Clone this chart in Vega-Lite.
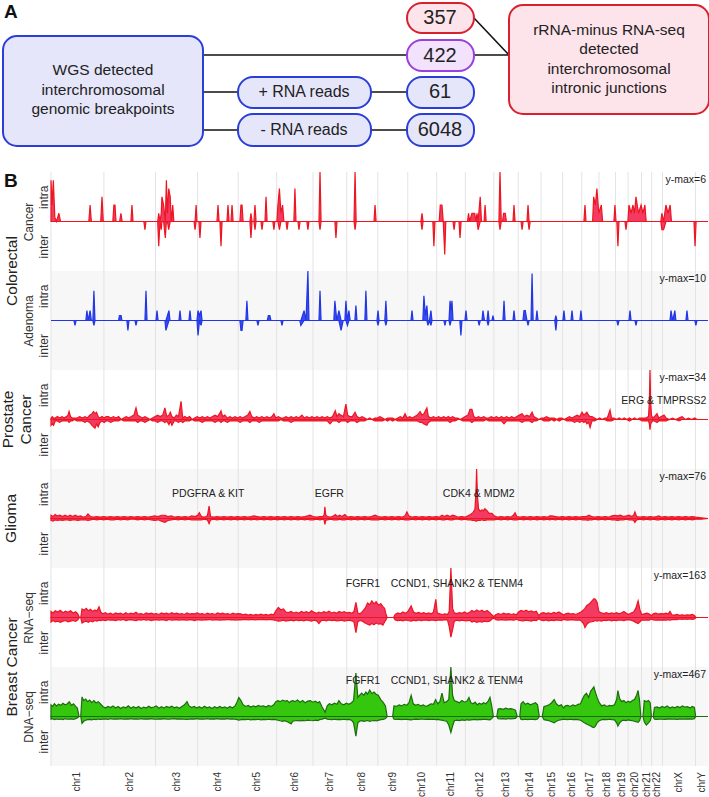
{
"$schema": "https://vega.github.io/schema/vega-lite/v6.json",
"padding": 0,
"autosize": {"type": "pad"},
"config": {"font": "Liberation Sans", "view": {"stroke": null}},
"bounds": "flush",
"spacing": 0,
"datasets": {
"chroms": [
{"chr":"chr1","start":0,"center":124.5},{"chr":"chr2","start":249,"center":370.5},{"chr":"chr3","start":492,"center":591},{"chr":"chr4","start":690,"center":785.5},{"chr":"chr5","start":881,"center":971.5},{"chr":"chr6","start":1062,"center":1147.5},{"chr":"chr7","start":1233,"center":1312.5},{"chr":"chr8","start":1392,"center":1465},{"chr":"chr9","start":1538,"center":1608.5},{"chr":"chr10","start":1679,"center":1747},{"chr":"chr11","start":1815,"center":1882.5},{"chr":"chr12","start":1950,"center":2017},{"chr":"chr13","start":2084,"center":2141.5},{"chr":"chr14","start":2199,"center":2252.5},{"chr":"chr15","start":2306,"center":2357},{"chr":"chr16","start":2408,"center":2453},{"chr":"chr17","start":2498,"center":2538.5},{"chr":"chr18","start":2579,"center":2618},{"chr":"chr19","start":2657,"center":2686.5},{"chr":"chr20","start":2716,"center":2747.5},{"chr":"chr21","start":2779,"center":2803},{"chr":"chr22","start":2827,"center":2852.5},{"chr":"chrX","start":2878,"center":2955.5},{"chr":"chrY","start":3033,"center":3062.5}
],
"crc": [
{"pos":0,"intra":5,"inter":0},{"pos":5,"intra":2,"inter":0},{"pos":11,"intra":5,"inter":0},{"pos":18,"intra":0.5,"inter":0},{"pos":26,"intra":0,"inter":0},{"pos":37,"intra":1,"inter":0},{"pos":45,"intra":0,"inter":0},
{"pos":178,"intra":0,"inter":0},{"pos":184,"intra":2,"inter":0},{"pos":190,"intra":0,"inter":0},
{"pos":234,"intra":0,"inter":0},{"pos":240,"intra":3,"inter":0},{"pos":246,"intra":0,"inter":0},
{"pos":291,"intra":0,"inter":0},{"pos":296,"intra":2,"inter":0},{"pos":301,"intra":2,"inter":0},{"pos":306,"intra":0,"inter":0},
{"pos":323,"intra":0,"inter":0},{"pos":329,"intra":1,"inter":0},{"pos":335,"intra":0,"inter":0},
{"pos":376,"intra":0,"inter":0},{"pos":381,"intra":2,"inter":0},{"pos":386,"intra":0,"inter":0},
{"pos":437,"intra":0,"inter":0},{"pos":442,"intra":0,"inter":-1},{"pos":447,"intra":0,"inter":0},
{"pos":502,"intra":0,"inter":0},{"pos":507,"intra":1,"inter":-3},{"pos":513,"intra":0,"inter":0},{"pos":519,"intra":1,"inter":-1},{"pos":522,"intra":3,"inter":0},{"pos":530,"intra":2,"inter":0},{"pos":538,"intra":0,"inter":-2},{"pos":543,"intra":5,"inter":0},{"pos":548,"intra":1,"inter":0},{"pos":554,"intra":4,"inter":-1},{"pos":561,"intra":3,"inter":0},{"pos":566,"intra":0,"inter":0},{"pos":573,"intra":2,"inter":0},{"pos":578,"intra":0,"inter":0},
{"pos":673,"intra":0,"inter":0},{"pos":678,"intra":0,"inter":-1},{"pos":683,"intra":2,"inter":0},{"pos":687,"intra":0,"inter":0},{"pos":696,"intra":0,"inter":0},{"pos":701,"intra":0,"inter":-2},{"pos":706,"intra":0,"inter":0},
{"pos":781,"intra":0,"inter":0},{"pos":786,"intra":2,"inter":0},{"pos":791,"intra":0,"inter":0},{"pos":795,"intra":0,"inter":0},{"pos":800,"intra":0,"inter":-3},{"pos":805,"intra":0,"inter":0},
{"pos":828,"intra":0,"inter":0},{"pos":833,"intra":2,"inter":0},{"pos":838,"intra":0,"inter":0},{"pos":847,"intra":0,"inter":0},{"pos":852,"intra":2,"inter":0},{"pos":857,"intra":0,"inter":0},
{"pos":889,"intra":0,"inter":0},{"pos":894,"intra":2,"inter":0},{"pos":899,"intra":2,"inter":0},{"pos":904,"intra":0,"inter":0},
{"pos":936,"intra":0,"inter":0},{"pos":941,"intra":1,"inter":-2},{"pos":946,"intra":0,"inter":0},{"pos":955,"intra":0,"inter":0},{"pos":960,"intra":2,"inter":-1},{"pos":965,"intra":0,"inter":0},
{"pos":988,"intra":0,"inter":0},{"pos":993,"intra":0,"inter":-1},{"pos":998,"intra":0,"inter":0},{"pos":1007,"intra":0,"inter":0},{"pos":1012,"intra":3,"inter":0},{"pos":1017,"intra":0,"inter":0},
{"pos":1044,"intra":0,"inter":0},{"pos":1049,"intra":0,"inter":-1},{"pos":1054,"intra":0,"inter":0},
{"pos":1063,"intra":0,"inter":0},{"pos":1068,"intra":2,"inter":0},{"pos":1075,"intra":4,"inter":-1},{"pos":1082,"intra":1,"inter":0},{"pos":1090,"intra":2,"inter":0},{"pos":1096,"intra":0,"inter":0},{"pos":1106,"intra":0,"inter":0},{"pos":1111,"intra":0,"inter":-1},{"pos":1116,"intra":0,"inter":0},
{"pos":1143,"intra":0,"inter":0},{"pos":1148,"intra":4,"inter":0},{"pos":1153,"intra":0,"inter":0},{"pos":1162,"intra":0,"inter":0},{"pos":1167,"intra":0,"inter":-1},{"pos":1172,"intra":0,"inter":0},
{"pos":1204,"intra":0,"inter":0},{"pos":1209,"intra":0,"inter":-1},{"pos":1214,"intra":0,"inter":0},
{"pos":1261,"intra":0,"inter":0},{"pos":1266,"intra":6,"inter":-1},{"pos":1271,"intra":0,"inter":0},
{"pos":1336,"intra":0,"inter":0},{"pos":1341,"intra":0,"inter":-2},{"pos":1346,"intra":0,"inter":0},
{"pos":1426,"intra":0,"inter":0},{"pos":1431,"intra":6,"inter":-1},{"pos":1436,"intra":0,"inter":0},
{"pos":1520,"intra":0,"inter":0},{"pos":1525,"intra":2,"inter":0},{"pos":1530,"intra":0,"inter":0},
{"pos":1741,"intra":0,"inter":0},{"pos":1746,"intra":1,"inter":-1},{"pos":1751,"intra":0,"inter":0},
{"pos":1797,"intra":0,"inter":0},{"pos":1802,"intra":0,"inter":-3},{"pos":1807,"intra":0,"inter":0},
{"pos":1827,"intra":0,"inter":0},{"pos":1832,"intra":2,"inter":0},{"pos":1840,"intra":2,"inter":0},{"pos":1846,"intra":0,"inter":0},{"pos":1853,"intra":0,"inter":-4},{"pos":1858,"intra":0,"inter":0},
{"pos":1892,"intra":0,"inter":0},{"pos":1897,"intra":0,"inter":-1},{"pos":1902,"intra":0,"inter":0},{"pos":1920,"intra":0,"inter":0},{"pos":1925,"intra":0,"inter":-2},{"pos":1930,"intra":0,"inter":0},
{"pos":1960,"intra":0,"inter":0},{"pos":1965,"intra":1,"inter":0},{"pos":1970,"intra":0,"inter":0},{"pos":1981,"intra":1,"inter":0},{"pos":1986,"intra":1,"inter":0},{"pos":1994,"intra":1,"inter":0},{"pos":2000,"intra":0,"inter":0},{"pos":2005,"intra":1,"inter":0},{"pos":2010,"intra":0,"inter":-1},{"pos":2020,"intra":3,"inter":0},{"pos":2026,"intra":0,"inter":0},{"pos":2038,"intra":0,"inter":0},{"pos":2043,"intra":2,"inter":0},{"pos":2048,"intra":0,"inter":0},
{"pos":2108,"intra":0,"inter":0},{"pos":2113,"intra":6,"inter":-1},{"pos":2119,"intra":0,"inter":0},{"pos":2125,"intra":0,"inter":0},{"pos":2130,"intra":1,"inter":0},{"pos":2138,"intra":1,"inter":0},{"pos":2143,"intra":0,"inter":0},
{"pos":2174,"intra":0,"inter":0},{"pos":2179,"intra":2,"inter":0},{"pos":2184,"intra":0,"inter":0},
{"pos":2212,"intra":0,"inter":0},{"pos":2217,"intra":0,"inter":-1},{"pos":2222,"intra":0,"inter":0},
{"pos":2240,"intra":0,"inter":0},{"pos":2245,"intra":2,"inter":0},{"pos":2250,"intra":0,"inter":-1},{"pos":2255,"intra":0,"inter":0},
{"pos":2508,"intra":0,"inter":0},{"pos":2513,"intra":2,"inter":0},{"pos":2518,"intra":0,"inter":0},
{"pos":2549,"intra":0,"inter":0},{"pos":2554,"intra":3,"inter":0},{"pos":2562,"intra":2,"inter":0},{"pos":2569,"intra":4,"inter":0},{"pos":2578,"intra":1,"inter":0},{"pos":2590,"intra":2,"inter":0},{"pos":2596,"intra":0,"inter":0},
{"pos":2649,"intra":0,"inter":0},{"pos":2654,"intra":2,"inter":0},{"pos":2659,"intra":0,"inter":0},{"pos":2663,"intra":0,"inter":0},{"pos":2668,"intra":0,"inter":-3},{"pos":2673,"intra":0,"inter":0},
{"pos":2701,"intra":0,"inter":0},{"pos":2706,"intra":0,"inter":-1},{"pos":2711,"intra":0,"inter":0},
{"pos":2715,"intra":0,"inter":0},{"pos":2720,"intra":2,"inter":0},{"pos":2730,"intra":1,"inter":0},{"pos":2739,"intra":2,"inter":0},{"pos":2746,"intra":1,"inter":0},{"pos":2753,"intra":3,"inter":0},{"pos":2765,"intra":1,"inter":0},{"pos":2777,"intra":2,"inter":0},{"pos":2786,"intra":1,"inter":0},{"pos":2795,"intra":2,"inter":0},{"pos":2801,"intra":0,"inter":0},
{"pos":2870,"intra":0,"inter":0},{"pos":2875,"intra":1,"inter":-1},{"pos":2883,"intra":0,"inter":-1},{"pos":2894,"intra":2,"inter":0},{"pos":2904,"intra":1,"inter":0},{"pos":2914,"intra":2,"inter":0},{"pos":2920,"intra":0,"inter":0},
{"pos":3026,"intra":0,"inter":0},{"pos":3031,"intra":0,"inter":-3},{"pos":3036,"intra":0,"inter":0},{"pos":3092,"intra":0,"inter":0}
],
"aden": [
{"pos":0,"intra":0,"inter":0},{"pos":108,"intra":0,"inter":0},{"pos":113,"intra":0,"inter":-1},{"pos":118,"intra":0,"inter":0},{"pos":164,"intra":0,"inter":0},{"pos":169,"intra":2,"inter":0},{"pos":175,"intra":0,"inter":0},{"pos":184,"intra":2,"inter":0},{"pos":190,"intra":0,"inter":0},{"pos":197,"intra":0,"inter":0},{"pos":202,"intra":6,"inter":-1},{"pos":207,"intra":0,"inter":0},
{"pos":318,"intra":0,"inter":0},{"pos":322,"intra":1,"inter":0},{"pos":330,"intra":1,"inter":0},{"pos":334,"intra":0,"inter":0},{"pos":357,"intra":0,"inter":0},{"pos":362,"intra":0,"inter":-2},{"pos":367,"intra":0,"inter":0},{"pos":395,"intra":0,"inter":0},{"pos":400,"intra":0,"inter":-1},{"pos":405,"intra":0,"inter":0},
{"pos":442,"intra":0,"inter":0},{"pos":447,"intra":6,"inter":0},{"pos":452,"intra":0,"inter":0},{"pos":494,"intra":0,"inter":0},{"pos":499,"intra":2,"inter":0},{"pos":504,"intra":0,"inter":0},{"pos":536,"intra":0,"inter":0},{"pos":541,"intra":0,"inter":-2},{"pos":555,"intra":2,"inter":0},{"pos":560,"intra":0,"inter":0},
{"pos":602,"intra":0,"inter":0},{"pos":607,"intra":2,"inter":0},{"pos":612,"intra":0,"inter":0},{"pos":649,"intra":0,"inter":0},{"pos":654,"intra":2,"inter":0},{"pos":659,"intra":0,"inter":0},{"pos":687,"intra":0,"inter":0},{"pos":692,"intra":2,"inter":-3},{"pos":699,"intra":1,"inter":0},{"pos":706,"intra":2,"inter":-1},{"pos":711,"intra":0,"inter":0},
{"pos":889,"intra":0,"inter":0},{"pos":894,"intra":0,"inter":-2},{"pos":899,"intra":0,"inter":-2},{"pos":904,"intra":0,"inter":0},{"pos":917,"intra":0,"inter":0},{"pos":922,"intra":4,"inter":0},{"pos":927,"intra":0,"inter":0},{"pos":969,"intra":0,"inter":0},{"pos":974,"intra":0,"inter":-1},{"pos":979,"intra":0,"inter":0},
{"pos":1018,"intra":0,"inter":0},{"pos":1023,"intra":1,"inter":0},{"pos":1030,"intra":1,"inter":0},{"pos":1035,"intra":0,"inter":0},{"pos":1082,"intra":0,"inter":0},{"pos":1087,"intra":0,"inter":-1},{"pos":1092,"intra":0,"inter":0},{"pos":1171,"intra":0,"inter":0},{"pos":1176,"intra":0,"inter":-1},{"pos":1191,"intra":2,"inter":0},{"pos":1200,"intra":0,"inter":0},{"pos":1209,"intra":10,"inter":0},{"pos":1214,"intra":0,"inter":0},
{"pos":1261,"intra":0,"inter":0},{"pos":1266,"intra":6,"inter":0},{"pos":1271,"intra":0,"inter":0},{"pos":1331,"intra":0,"inter":0},{"pos":1336,"intra":4,"inter":0},{"pos":1345,"intra":0,"inter":0},{"pos":1355,"intra":2,"inter":0},{"pos":1365,"intra":0,"inter":-2},{"pos":1375,"intra":0,"inter":0},{"pos":1383,"intra":0,"inter":0},{"pos":1388,"intra":4,"inter":0},{"pos":1395,"intra":0,"inter":-1},{"pos":1402,"intra":2,"inter":0},{"pos":1408,"intra":0,"inter":0},
{"pos":1430,"intra":0,"inter":0},{"pos":1435,"intra":3,"inter":0},{"pos":1440,"intra":0,"inter":0},{"pos":1477,"intra":0,"inter":0},{"pos":1482,"intra":6,"inter":0},{"pos":1487,"intra":0,"inter":0},{"pos":1534,"intra":0,"inter":0},{"pos":1539,"intra":2,"inter":-1},{"pos":1544,"intra":0,"inter":0},{"pos":1571,"intra":0,"inter":0},{"pos":1576,"intra":4,"inter":-1},{"pos":1581,"intra":0,"inter":0},
{"pos":1694,"intra":0,"inter":0},{"pos":1699,"intra":2,"inter":0},{"pos":1704,"intra":0,"inter":0},{"pos":1750,"intra":0,"inter":0},{"pos":1755,"intra":5,"inter":0},{"pos":1762,"intra":1,"inter":0},{"pos":1769,"intra":3,"inter":0},{"pos":1774,"intra":0,"inter":-1},{"pos":1781,"intra":0,"inter":0},{"pos":1788,"intra":2,"inter":-1},{"pos":1793,"intra":0,"inter":0},
{"pos":1849,"intra":0,"inter":0},{"pos":1854,"intra":0,"inter":-1},{"pos":1859,"intra":0,"inter":0},{"pos":1873,"intra":0,"inter":0},{"pos":1878,"intra":4,"inter":-1},{"pos":1883,"intra":2,"inter":0},{"pos":1887,"intra":4,"inter":0},{"pos":1892,"intra":0,"inter":0},{"pos":1924,"intra":0,"inter":0},{"pos":1929,"intra":0,"inter":-3},{"pos":1934,"intra":0,"inter":0},{"pos":1948,"intra":0,"inter":0},{"pos":1953,"intra":2,"inter":0},{"pos":1958,"intra":0,"inter":0},
{"pos":2010,"intra":0,"inter":0},{"pos":2015,"intra":0,"inter":-1},{"pos":2020,"intra":0,"inter":0},{"pos":2028,"intra":0,"inter":0},{"pos":2033,"intra":2,"inter":0},{"pos":2040,"intra":0,"inter":0},{"pos":2052,"intra":0,"inter":0},{"pos":2057,"intra":2,"inter":-1},{"pos":2062,"intra":0,"inter":0},{"pos":2075,"intra":0,"inter":0},{"pos":2080,"intra":1,"inter":0},{"pos":2085,"intra":0,"inter":0},
{"pos":2127,"intra":0,"inter":0},{"pos":2132,"intra":4,"inter":0},{"pos":2137,"intra":0,"inter":0},{"pos":2174,"intra":0,"inter":0},{"pos":2179,"intra":2,"inter":0},{"pos":2184,"intra":0,"inter":0},{"pos":2221,"intra":0,"inter":0},{"pos":2226,"intra":2,"inter":0},{"pos":2232,"intra":2,"inter":0},{"pos":2240,"intra":0,"inter":0},{"pos":2245,"intra":0,"inter":-1},{"pos":2250,"intra":0,"inter":0},{"pos":2259,"intra":0,"inter":0},{"pos":2264,"intra":9.5,"inter":0},{"pos":2269,"intra":0,"inter":0},{"pos":2282,"intra":0,"inter":0},{"pos":2287,"intra":2,"inter":0},{"pos":2292,"intra":0,"inter":0},
{"pos":2371,"intra":0,"inter":0},{"pos":2376,"intra":1,"inter":-2},{"pos":2381,"intra":0,"inter":0},{"pos":2409,"intra":0,"inter":0},{"pos":2414,"intra":2,"inter":0},{"pos":2419,"intra":0,"inter":0},{"pos":2447,"intra":0,"inter":0},{"pos":2452,"intra":2,"inter":0},{"pos":2457,"intra":0,"inter":0},{"pos":2489,"intra":0,"inter":0},{"pos":2494,"intra":2,"inter":0},{"pos":2499,"intra":0,"inter":0},
{"pos":2663,"intra":0,"inter":0},{"pos":2668,"intra":0,"inter":-1},{"pos":2673,"intra":0,"inter":0},{"pos":2720,"intra":0,"inter":0},{"pos":2725,"intra":2,"inter":0},{"pos":2730,"intra":0,"inter":0},{"pos":2748,"intra":0,"inter":0},{"pos":2753,"intra":0,"inter":-1},{"pos":2758,"intra":0,"inter":0},
{"pos":2913,"intra":0,"inter":0},{"pos":2918,"intra":2,"inter":0},{"pos":2926,"intra":0,"inter":0},{"pos":2936,"intra":2,"inter":0},{"pos":2941,"intra":0,"inter":0},{"pos":2988,"intra":0,"inter":0},{"pos":2993,"intra":2,"inter":0},{"pos":2998,"intra":0,"inter":0},{"pos":3030,"intra":0,"inter":0},{"pos":3035,"intra":0,"inter":-1},{"pos":3040,"intra":0,"inter":0},{"pos":3092,"intra":0,"inter":0}
],
"pros": [
{"pos":0,"intra":1,"inter":-4},{"pos":6,"intra":2,"inter":-3},{"pos":12,"intra":1,"inter":-4},{"pos":20,"intra":1,"inter":-1},{"pos":30,"intra":2,"inter":-1},{"pos":40,"intra":1,"inter":-2},{"pos":52,"intra":2,"inter":-1},{"pos":62,"intra":1,"inter":-1},{"pos":72,"intra":2,"inter":-1},{"pos":80,"intra":3,"inter":-1},{"pos":85,"intra":5.5,"inter":-2},{"pos":92,"intra":2,"inter":-1},{"pos":100,"intra":1,"inter":-1},{"pos":110,"intra":1,"inter":0},{"pos":122,"intra":1,"inter":-1},{"pos":135,"intra":2,"inter":-1},{"pos":148,"intra":1,"inter":-1},{"pos":160,"intra":2,"inter":-2},{"pos":170,"intra":1,"inter":-1},{"pos":182,"intra":3,"inter":-2},{"pos":193,"intra":4,"inter":-4},{"pos":200,"intra":5.5,"inter":-5},{"pos":207,"intra":4,"inter":-6},{"pos":214,"intra":5,"inter":-3},{"pos":222,"intra":2,"inter":-5},{"pos":230,"intra":1,"inter":-2},{"pos":240,"intra":2,"inter":-1},{"pos":250,"intra":1,"inter":-2},{"pos":260,"intra":2,"inter":-1},{"pos":270,"intra":2,"inter":-1},{"pos":282,"intra":1,"inter":-2},{"pos":294,"intra":2,"inter":-1},{"pos":306,"intra":1,"inter":-1},{"pos":318,"intra":2,"inter":-1},{"pos":330,"intra":0,"inter":0},{"pos":342,"intra":1,"inter":-1},{"pos":354,"intra":2,"inter":-1},{"pos":366,"intra":1,"inter":-1},{"pos":378,"intra":2,"inter":-1},{"pos":390,"intra":3,"inter":-1},{"pos":400,"intra":8,"inter":-1},{"pos":408,"intra":3,"inter":-2},{"pos":418,"intra":2,"inter":-1},{"pos":430,"intra":1,"inter":-1},{"pos":442,"intra":2,"inter":-2},{"pos":454,"intra":1,"inter":-1},{"pos":466,"intra":0,"inter":0},{"pos":478,"intra":1,"inter":-1},{"pos":490,"intra":2,"inter":-1},{"pos":502,"intra":3,"inter":-2},{"pos":514,"intra":2,"inter":-1},{"pos":526,"intra":3,"inter":-1},{"pos":536,"intra":8,"inter":-2},{"pos":545,"intra":2,"inter":-1},{"pos":555,"intra":3,"inter":-3.5},{"pos":562,"intra":5,"inter":-1},{"pos":569,"intra":2,"inter":-4},{"pos":580,"intra":1,"inter":-1},{"pos":590,"intra":3,"inter":-1},{"pos":600,"intra":2,"inter":-2},{"pos":612,"intra":12.5,"inter":-1},{"pos":620,"intra":1,"inter":-2},{"pos":630,"intra":2,"inter":-1},{"pos":640,"intra":1,"inter":-1},{"pos":652,"intra":2,"inter":-1},{"pos":664,"intra":0,"inter":0},{"pos":676,"intra":1,"inter":-1},{"pos":688,"intra":2,"inter":-1},{"pos":700,"intra":1,"inter":-1},{"pos":712,"intra":2,"inter":-2},{"pos":724,"intra":1,"inter":-1},{"pos":736,"intra":2,"inter":-1},{"pos":748,"intra":1,"inter":-1},{"pos":760,"intra":2,"inter":-1},{"pos":772,"intra":3,"inter":-2},{"pos":784,"intra":2,"inter":-1},{"pos":793,"intra":4,"inter":-1},{"pos":800,"intra":6,"inter":-2},{"pos":808,"intra":2,"inter":-1},{"pos":818,"intra":3,"inter":-1},{"pos":830,"intra":1,"inter":-2},{"pos":842,"intra":2,"inter":-1},{"pos":854,"intra":1,"inter":-1},{"pos":866,"intra":2,"inter":-1},{"pos":878,"intra":1,"inter":-1},{"pos":890,"intra":2,"inter":-2},{"pos":902,"intra":1,"inter":-1},{"pos":914,"intra":2,"inter":-1},{"pos":926,"intra":3,"inter":-1},{"pos":936,"intra":5.5,"inter":-2},{"pos":945,"intra":2,"inter":-1},{"pos":956,"intra":1,"inter":-1},{"pos":968,"intra":2,"inter":-1},{"pos":980,"intra":1,"inter":-2},{"pos":992,"intra":2,"inter":-1},{"pos":1004,"intra":1,"inter":-1},{"pos":1016,"intra":2,"inter":-1},{"pos":1028,"intra":1,"inter":-1},{"pos":1040,"intra":2,"inter":-1},{"pos":1049,"intra":4,"inter":-1},{"pos":1058,"intra":1,"inter":-1},{"pos":1070,"intra":2,"inter":-1},{"pos":1082,"intra":1,"inter":0},{"pos":1094,"intra":1,"inter":-1},{"pos":1106,"intra":2,"inter":-1},{"pos":1118,"intra":1,"inter":-1},{"pos":1130,"intra":2,"inter":-2},{"pos":1142,"intra":1,"inter":-1},{"pos":1154,"intra":2,"inter":-1},{"pos":1166,"intra":1,"inter":-1},{"pos":1181,"intra":3,"inter":-1},{"pos":1192,"intra":1,"inter":-1},{"pos":1204,"intra":2,"inter":-1},{"pos":1216,"intra":1,"inter":-1},{"pos":1228,"intra":2,"inter":-1},{"pos":1240,"intra":1,"inter":-1},{"pos":1252,"intra":2,"inter":-1},{"pos":1264,"intra":1,"inter":-1},{"pos":1276,"intra":2,"inter":-1},{"pos":1288,"intra":1,"inter":-1},{"pos":1300,"intra":2,"inter":-1},{"pos":1313,"intra":1,"inter":-3},{"pos":1325,"intra":2,"inter":-1},{"pos":1338,"intra":6,"inter":-1},{"pos":1346,"intra":2,"inter":-1},{"pos":1355,"intra":4,"inter":-2},{"pos":1364,"intra":3,"inter":-1},{"pos":1376,"intra":2,"inter":-1},{"pos":1388,"intra":10.5,"inter":-1},{"pos":1396,"intra":3,"inter":-2},{"pos":1406,"intra":2,"inter":-1},{"pos":1418,"intra":2,"inter":-1},{"pos":1431,"intra":5,"inter":-1},{"pos":1440,"intra":2,"inter":-2},{"pos":1452,"intra":1,"inter":-1},{"pos":1464,"intra":2,"inter":-1},{"pos":1476,"intra":1,"inter":-1},{"pos":1488,"intra":0,"inter":0},{"pos":1500,"intra":1,"inter":0},{"pos":1512,"intra":0,"inter":0},{"pos":1524,"intra":1,"inter":-1},{"pos":1536,"intra":1,"inter":-1},{"pos":1548,"intra":2,"inter":-1},{"pos":1560,"intra":1,"inter":-1},{"pos":1572,"intra":0,"inter":0},{"pos":1584,"intra":1,"inter":-1},{"pos":1596,"intra":1,"inter":0},{"pos":1608,"intra":1,"inter":-1},{"pos":1620,"intra":0,"inter":0},{"pos":1632,"intra":1,"inter":-1},{"pos":1644,"intra":2,"inter":-1},{"pos":1656,"intra":1,"inter":-1},{"pos":1666,"intra":4,"inter":-1},{"pos":1676,"intra":1,"inter":-1},{"pos":1688,"intra":2,"inter":-1},{"pos":1700,"intra":1,"inter":-1},{"pos":1712,"intra":2,"inter":-1},{"pos":1724,"intra":3,"inter":-1},{"pos":1737,"intra":5.5,"inter":-2},{"pos":1746,"intra":3,"inter":-2},{"pos":1755,"intra":4,"inter":-3},{"pos":1769,"intra":8,"inter":-4},{"pos":1776,"intra":2,"inter":-2},{"pos":1788,"intra":1,"inter":-1},{"pos":1800,"intra":2,"inter":-1},{"pos":1812,"intra":1,"inter":-1},{"pos":1824,"intra":2,"inter":-1},{"pos":1836,"intra":1,"inter":-1},{"pos":1848,"intra":2,"inter":-1},{"pos":1860,"intra":1,"inter":-1},{"pos":1870,"intra":2,"inter":-1},{"pos":1878,"intra":1,"inter":-2},{"pos":1890,"intra":2,"inter":-1},{"pos":1902,"intra":1,"inter":-1},{"pos":1914,"intra":1,"inter":0},{"pos":1926,"intra":0,"inter":0},{"pos":1938,"intra":1,"inter":-1},{"pos":1950,"intra":2,"inter":-1},{"pos":1962,"intra":3,"inter":-1},{"pos":1972,"intra":7,"inter":-1},{"pos":1981,"intra":7,"inter":-2},{"pos":1990,"intra":2,"inter":-1},{"pos":2000,"intra":1,"inter":-1},{"pos":2012,"intra":2,"inter":-1},{"pos":2024,"intra":1,"inter":-1},{"pos":2036,"intra":2,"inter":-1},{"pos":2048,"intra":1,"inter":0},{"pos":2060,"intra":1,"inter":-1},{"pos":2072,"intra":2,"inter":-1},{"pos":2084,"intra":1,"inter":-1},{"pos":2096,"intra":2,"inter":-1},{"pos":2108,"intra":1,"inter":-1},{"pos":2120,"intra":2,"inter":-1},{"pos":2132,"intra":1,"inter":-3},{"pos":2144,"intra":2,"inter":-1},{"pos":2156,"intra":1,"inter":-1},{"pos":2168,"intra":2,"inter":-1},{"pos":2180,"intra":1,"inter":-1},{"pos":2192,"intra":2,"inter":-1},{"pos":2204,"intra":3,"inter":-1},{"pos":2217,"intra":4,"inter":-2},{"pos":2228,"intra":2,"inter":-1},{"pos":2240,"intra":3,"inter":-1},{"pos":2252,"intra":2,"inter":-1},{"pos":2264,"intra":5,"inter":-2},{"pos":2272,"intra":2,"inter":-1},{"pos":2284,"intra":1,"inter":-1},{"pos":2296,"intra":0,"inter":0},{"pos":2308,"intra":1,"inter":0},{"pos":2320,"intra":1,"inter":-1},{"pos":2332,"intra":2,"inter":-1},{"pos":2344,"intra":1,"inter":-1},{"pos":2356,"intra":1,"inter":0},{"pos":2368,"intra":1,"inter":-1},{"pos":2380,"intra":0,"inter":0},{"pos":2392,"intra":1,"inter":-1},{"pos":2404,"intra":1,"inter":0},{"pos":2416,"intra":0,"inter":0},{"pos":2428,"intra":1,"inter":-1},{"pos":2440,"intra":2,"inter":-1},{"pos":2452,"intra":1,"inter":-1},{"pos":2464,"intra":2,"inter":-2},{"pos":2476,"intra":3,"inter":-1},{"pos":2488,"intra":2,"inter":-2},{"pos":2499,"intra":5,"inter":-1},{"pos":2508,"intra":3,"inter":-2},{"pos":2515,"intra":4,"inter":-1},{"pos":2522,"intra":5,"inter":-3},{"pos":2530,"intra":3,"inter":-2},{"pos":2537,"intra":2,"inter":-5.5},{"pos":2546,"intra":2,"inter":-1},{"pos":2558,"intra":1,"inter":-1},{"pos":2570,"intra":0,"inter":0},{"pos":2582,"intra":1,"inter":0},{"pos":2594,"intra":0,"inter":0},{"pos":2606,"intra":1,"inter":0},{"pos":2618,"intra":1,"inter":-1},{"pos":2631,"intra":6.5,"inter":-1},{"pos":2638,"intra":1,"inter":-1},{"pos":2650,"intra":1,"inter":0},{"pos":2662,"intra":0,"inter":0},{"pos":2674,"intra":1,"inter":0},{"pos":2686,"intra":0,"inter":0},{"pos":2698,"intra":1,"inter":0},{"pos":2710,"intra":0,"inter":0},{"pos":2722,"intra":1,"inter":-1},{"pos":2734,"intra":0,"inter":0},{"pos":2746,"intra":1,"inter":0},{"pos":2758,"intra":0,"inter":0},{"pos":2770,"intra":1,"inter":0},{"pos":2782,"intra":1,"inter":-1},{"pos":2800,"intra":1,"inter":-1},{"pos":2812,"intra":2,"inter":-1},{"pos":2816,"intra":12,"inter":-3},{"pos":2819,"intra":34,"inter":-7},{"pos":2822,"intra":12,"inter":-3},{"pos":2826,"intra":3,"inter":-2},{"pos":2832,"intra":1,"inter":-1},{"pos":2840,"intra":2,"inter":-1},{"pos":2852,"intra":4,"inter":-2},{"pos":2860,"intra":1,"inter":-1},{"pos":2872,"intra":2,"inter":-1},{"pos":2885,"intra":3,"inter":-1},{"pos":2895,"intra":1,"inter":-1},{"pos":2910,"intra":0,"inter":0},{"pos":2925,"intra":1,"inter":0},{"pos":2940,"intra":0,"inter":0},{"pos":2955,"intra":1,"inter":-1},{"pos":2970,"intra":2,"inter":0},{"pos":2985,"intra":0,"inter":0},{"pos":3000,"intra":1,"inter":0},{"pos":3015,"intra":0,"inter":0},{"pos":3030,"intra":1,"inter":0},{"pos":3040,"intra":0,"inter":0},{"pos":3092,"intra":0,"inter":0}
],
"glio": [
{"pos":0,"intra":5,"inter":-3},{"pos":10,"intra":3,"inter":-4},{"pos":20,"intra":6,"inter":-2},{"pos":30,"intra":4,"inter":-3},{"pos":42,"intra":5,"inter":-2},{"pos":54,"intra":3,"inter":-3},{"pos":66,"intra":5,"inter":-2},{"pos":78,"intra":3,"inter":-2},{"pos":90,"intra":5,"inter":-3},{"pos":102,"intra":3,"inter":-2},{"pos":114,"intra":5,"inter":-2},{"pos":126,"intra":3,"inter":-3},{"pos":140,"intra":4,"inter":-2},{"pos":152,"intra":2,"inter":-2},{"pos":164,"intra":3,"inter":-2},{"pos":174,"intra":7,"inter":-3},{"pos":186,"intra":3,"inter":-2},{"pos":200,"intra":2,"inter":-1},{"pos":216,"intra":3,"inter":-2},{"pos":232,"intra":2,"inter":-1},{"pos":248,"intra":3,"inter":-2},{"pos":264,"intra":2,"inter":-1},{"pos":280,"intra":3,"inter":-2},{"pos":296,"intra":2,"inter":-2},{"pos":312,"intra":3,"inter":-1},{"pos":328,"intra":2,"inter":-2},{"pos":344,"intra":3,"inter":-1},{"pos":360,"intra":2,"inter":-2},{"pos":376,"intra":3,"inter":-1},{"pos":392,"intra":2,"inter":-1},{"pos":408,"intra":3,"inter":-2},{"pos":424,"intra":2,"inter":-1},{"pos":440,"intra":3,"inter":-2},{"pos":456,"intra":2,"inter":-1},{"pos":472,"intra":3,"inter":-2},{"pos":488,"intra":4,"inter":-3},{"pos":504,"intra":3,"inter":-2},{"pos":520,"intra":5,"inter":-4},{"pos":536,"intra":5,"inter":-6},{"pos":550,"intra":3,"inter":-3},{"pos":566,"intra":4,"inter":-2},{"pos":582,"intra":2,"inter":-1},{"pos":598,"intra":3,"inter":-2},{"pos":614,"intra":2,"inter":-1},{"pos":630,"intra":3,"inter":-2},{"pos":646,"intra":2,"inter":-1},{"pos":662,"intra":4,"inter":-2},{"pos":678,"intra":3,"inter":-2},{"pos":690,"intra":5,"inter":-2},{"pos":698,"intra":9,"inter":-2},{"pos":708,"intra":3,"inter":-2},{"pos":722,"intra":2,"inter":-1},{"pos":736,"intra":4,"inter":-2},{"pos":744,"intra":19,"inter":-8},{"pos":751,"intra":3,"inter":-2},{"pos":766,"intra":2,"inter":-1},{"pos":782,"intra":3,"inter":-2},{"pos":798,"intra":2,"inter":-1},{"pos":814,"intra":3,"inter":-2},{"pos":830,"intra":2,"inter":-1},{"pos":846,"intra":3,"inter":-2},{"pos":862,"intra":2,"inter":-1},{"pos":878,"intra":3,"inter":-2},{"pos":894,"intra":2,"inter":-1},{"pos":910,"intra":3,"inter":-2},{"pos":926,"intra":2,"inter":-1},{"pos":942,"intra":3,"inter":-2},{"pos":955,"intra":4,"inter":-1},{"pos":970,"intra":3,"inter":-2},{"pos":986,"intra":2,"inter":-1},{"pos":1002,"intra":3,"inter":-2},{"pos":1018,"intra":2,"inter":-1},{"pos":1034,"intra":3,"inter":-2},{"pos":1050,"intra":2,"inter":-1},{"pos":1066,"intra":3,"inter":-2},{"pos":1082,"intra":2,"inter":-1},{"pos":1098,"intra":3,"inter":-2},{"pos":1114,"intra":2,"inter":-1},{"pos":1130,"intra":3,"inter":-2},{"pos":1146,"intra":2,"inter":-1},{"pos":1162,"intra":3,"inter":-2},{"pos":1178,"intra":2,"inter":-1},{"pos":1194,"intra":3,"inter":-2},{"pos":1208,"intra":4,"inter":-1},{"pos":1219,"intra":5,"inter":-2},{"pos":1234,"intra":3,"inter":-2},{"pos":1250,"intra":2,"inter":-1},{"pos":1266,"intra":3,"inter":-2},{"pos":1280,"intra":3,"inter":-1},{"pos":1286,"intra":6,"inter":-3},{"pos":1289,"intra":18,"inter":-9},{"pos":1293,"intra":5,"inter":-3},{"pos":1300,"intra":3,"inter":-2},{"pos":1316,"intra":2,"inter":-1},{"pos":1330,"intra":4,"inter":-2},{"pos":1338,"intra":6,"inter":-2},{"pos":1348,"intra":3,"inter":-2},{"pos":1358,"intra":5,"inter":-1},{"pos":1370,"intra":3,"inter":-2},{"pos":1383,"intra":6,"inter":-2},{"pos":1396,"intra":2,"inter":-1},{"pos":1412,"intra":3,"inter":-2},{"pos":1428,"intra":2,"inter":-1},{"pos":1444,"intra":3,"inter":-2},{"pos":1460,"intra":2,"inter":-1},{"pos":1476,"intra":3,"inter":-2},{"pos":1492,"intra":2,"inter":-1},{"pos":1508,"intra":3,"inter":-2},{"pos":1525,"intra":5,"inter":-2},{"pos":1540,"intra":3,"inter":-2},{"pos":1556,"intra":2,"inter":-1},{"pos":1572,"intra":3,"inter":-2},{"pos":1588,"intra":2,"inter":-1},{"pos":1604,"intra":3,"inter":-2},{"pos":1620,"intra":2,"inter":-1},{"pos":1636,"intra":3,"inter":-2},{"pos":1652,"intra":2,"inter":-1},{"pos":1666,"intra":4,"inter":-2},{"pos":1675,"intra":10,"inter":-2},{"pos":1684,"intra":4,"inter":-2},{"pos":1700,"intra":2,"inter":-1},{"pos":1716,"intra":3,"inter":-2},{"pos":1732,"intra":2,"inter":-1},{"pos":1748,"intra":3,"inter":-2},{"pos":1764,"intra":2,"inter":-1},{"pos":1780,"intra":3,"inter":-2},{"pos":1796,"intra":2,"inter":-1},{"pos":1812,"intra":3,"inter":-2},{"pos":1828,"intra":2,"inter":-1},{"pos":1840,"intra":5,"inter":-2},{"pos":1852,"intra":3,"inter":-2},{"pos":1864,"intra":5,"inter":-1},{"pos":1878,"intra":3,"inter":-2},{"pos":1890,"intra":5,"inter":-2},{"pos":1901,"intra":4,"inter":-1},{"pos":1916,"intra":2,"inter":-1},{"pos":1932,"intra":3,"inter":-2},{"pos":1948,"intra":2,"inter":-1},{"pos":1962,"intra":4,"inter":-2},{"pos":1974,"intra":6,"inter":-2},{"pos":1986,"intra":9,"inter":-3},{"pos":1995,"intra":14,"inter":-3},{"pos":2000,"intra":40,"inter":-4},{"pos":2003,"intra":76,"inter":-4},{"pos":2007,"intra":35,"inter":-3},{"pos":2012,"intra":15,"inter":-3},{"pos":2020,"intra":11,"inter":-3},{"pos":2028,"intra":13,"inter":-2},{"pos":2036,"intra":12,"inter":-3},{"pos":2042,"intra":15,"inter":-3},{"pos":2052,"intra":12,"inter":-2},{"pos":2062,"intra":8,"inter":-2},{"pos":2075,"intra":8,"inter":-2},{"pos":2086,"intra":4,"inter":-2},{"pos":2102,"intra":2,"inter":-1},{"pos":2118,"intra":3,"inter":-2},{"pos":2134,"intra":2,"inter":-1},{"pos":2150,"intra":3,"inter":-2},{"pos":2164,"intra":2,"inter":-1},{"pos":2176,"intra":5,"inter":-2},{"pos":2184,"intra":9,"inter":-2},{"pos":2192,"intra":3,"inter":-2},{"pos":2208,"intra":2,"inter":-1},{"pos":2224,"intra":3,"inter":-2},{"pos":2240,"intra":2,"inter":-1},{"pos":2256,"intra":3,"inter":-2},{"pos":2272,"intra":2,"inter":-1},{"pos":2288,"intra":3,"inter":-2},{"pos":2304,"intra":2,"inter":-1},{"pos":2320,"intra":3,"inter":-2},{"pos":2336,"intra":2,"inter":-1},{"pos":2348,"intra":4,"inter":-2},{"pos":2358,"intra":4,"inter":-1},{"pos":2374,"intra":3,"inter":-2},{"pos":2390,"intra":2,"inter":-1},{"pos":2406,"intra":3,"inter":-2},{"pos":2422,"intra":2,"inter":-1},{"pos":2438,"intra":3,"inter":-2},{"pos":2454,"intra":2,"inter":-1},{"pos":2470,"intra":3,"inter":-2},{"pos":2486,"intra":2,"inter":-1},{"pos":2502,"intra":3,"inter":-2},{"pos":2518,"intra":3,"inter":-2},{"pos":2526,"intra":4,"inter":-3},{"pos":2532,"intra":5,"inter":-2},{"pos":2544,"intra":3,"inter":-2},{"pos":2560,"intra":2,"inter":-1},{"pos":2576,"intra":3,"inter":-2},{"pos":2592,"intra":2,"inter":-1},{"pos":2608,"intra":3,"inter":-2},{"pos":2624,"intra":2,"inter":-1},{"pos":2640,"intra":4,"inter":-2},{"pos":2654,"intra":5,"inter":-2},{"pos":2666,"intra":4,"inter":-3},{"pos":2680,"intra":5,"inter":-2},{"pos":2694,"intra":3,"inter":-2},{"pos":2708,"intra":4,"inter":-1},{"pos":2720,"intra":5,"inter":-2},{"pos":2734,"intra":3,"inter":-2},{"pos":2742,"intra":5,"inter":-3},{"pos":2748,"intra":10,"inter":-6},{"pos":2756,"intra":3,"inter":-2},{"pos":2772,"intra":2,"inter":-1},{"pos":2788,"intra":3,"inter":-2},{"pos":2804,"intra":2,"inter":-1},{"pos":2820,"intra":3,"inter":-2},{"pos":2836,"intra":2,"inter":-1},{"pos":2850,"intra":3,"inter":-2},{"pos":2861,"intra":4,"inter":-2},{"pos":2874,"intra":2,"inter":-1},{"pos":2890,"intra":3,"inter":-2},{"pos":2906,"intra":2,"inter":-1},{"pos":2922,"intra":3,"inter":-2},{"pos":2938,"intra":2,"inter":-1},{"pos":2954,"intra":3,"inter":-2},{"pos":2970,"intra":2,"inter":-1},{"pos":2986,"intra":3,"inter":-2},{"pos":3002,"intra":2,"inter":-1},{"pos":3018,"intra":3,"inter":-2},{"pos":3034,"intra":2,"inter":-1},{"pos":3060,"intra":1,"inter":-1},{"pos":3092,"intra":0,"inter":0}
],
"rna": [
{"pos":0,"intra":20,"inter":-15},{"pos":10,"intra":15,"inter":-10},{"pos":20,"intra":22,"inter":-14},{"pos":32,"intra":18,"inter":-12},{"pos":44,"intra":24,"inter":-16},{"pos":56,"intra":16,"inter":-12},{"pos":68,"intra":21,"inter":-10},{"pos":80,"intra":17,"inter":-14},{"pos":92,"intra":22,"inter":-12},{"pos":104,"intra":15,"inter":-10},{"pos":116,"intra":19,"inter":-13},{"pos":126,"intra":12,"inter":-8},{"pos":134,"intra":0,"inter":0},{"pos":140,"intra":0,"inter":0},{"pos":146,"intra":28,"inter":-18},{"pos":156,"intra":24,"inter":-14},{"pos":166,"intra":30,"inter":-12},{"pos":176,"intra":22,"inter":-16},{"pos":186,"intra":27,"inter":-11},{"pos":196,"intra":20,"inter":-14},{"pos":206,"intra":25,"inter":-10},{"pos":216,"intra":21,"inter":-12},{"pos":226,"intra":35,"inter":-9},{"pos":234,"intra":18,"inter":-10},{"pos":244,"intra":12,"inter":-8},{"pos":256,"intra":16,"inter":-10},{"pos":268,"intra":11,"inter":-7},{"pos":280,"intra":14,"inter":-9},{"pos":292,"intra":10,"inter":-8},{"pos":304,"intra":15,"inter":-10},{"pos":316,"intra":12,"inter":-7},{"pos":328,"intra":14,"inter":-9},{"pos":340,"intra":10,"inter":-6},{"pos":352,"intra":16,"inter":-10},{"pos":364,"intra":11,"inter":-8},{"pos":376,"intra":14,"inter":-7},{"pos":388,"intra":12,"inter":-9},{"pos":400,"intra":17,"inter":-10},{"pos":412,"intra":11,"inter":-7},{"pos":424,"intra":13,"inter":-9},{"pos":436,"intra":10,"inter":-6},{"pos":448,"intra":15,"inter":-9},{"pos":460,"intra":12,"inter":-7},{"pos":472,"intra":14,"inter":-10},{"pos":484,"intra":11,"inter":-8},{"pos":496,"intra":13,"inter":-7},{"pos":508,"intra":10,"inter":-9},{"pos":520,"intra":15,"inter":-7},{"pos":532,"intra":12,"inter":-8},{"pos":544,"intra":14,"inter":-10},{"pos":556,"intra":11,"inter":-6},{"pos":568,"intra":16,"inter":-9},{"pos":580,"intra":12,"inter":-8},{"pos":592,"intra":14,"inter":-7},{"pos":604,"intra":11,"inter":-9},{"pos":616,"intra":13,"inter":-7},{"pos":628,"intra":10,"inter":-8},{"pos":640,"intra":15,"inter":-9},{"pos":652,"intra":11,"inter":-7},{"pos":664,"intra":13,"inter":-8},{"pos":676,"intra":12,"inter":-10},{"pos":688,"intra":15,"inter":-7},{"pos":700,"intra":11,"inter":-8},{"pos":712,"intra":13,"inter":-9},{"pos":724,"intra":10,"inter":-7},{"pos":736,"intra":14,"inter":-8},{"pos":748,"intra":11,"inter":-6},{"pos":760,"intra":13,"inter":-9},{"pos":772,"intra":10,"inter":-7},{"pos":784,"intra":15,"inter":-8},{"pos":796,"intra":12,"inter":-9},{"pos":808,"intra":14,"inter":-7},{"pos":820,"intra":11,"inter":-8},{"pos":832,"intra":13,"inter":-6},{"pos":844,"intra":10,"inter":-8},{"pos":856,"intra":14,"inter":-7},{"pos":868,"intra":11,"inter":-9},{"pos":880,"intra":13,"inter":-7},{"pos":892,"intra":12,"inter":-8},{"pos":904,"intra":9,"inter":-7},{"pos":916,"intra":11,"inter":-6},{"pos":928,"intra":8,"inter":-8},{"pos":940,"intra":10,"inter":-6},{"pos":952,"intra":7,"inter":-7},{"pos":964,"intra":10,"inter":-8},{"pos":976,"intra":8,"inter":-6},{"pos":988,"intra":11,"inter":-7},{"pos":1000,"intra":8,"inter":-6},{"pos":1012,"intra":10,"inter":-8},{"pos":1024,"intra":7,"inter":-6},{"pos":1036,"intra":11,"inter":-7},{"pos":1048,"intra":9,"inter":-8},{"pos":1058,"intra":22,"inter":-10},{"pos":1070,"intra":33,"inter":-12},{"pos":1082,"intra":25,"inter":-11},{"pos":1094,"intra":28,"inter":-9},{"pos":1106,"intra":18,"inter":-12},{"pos":1118,"intra":16,"inter":-10},{"pos":1130,"intra":20,"inter":-9},{"pos":1142,"intra":15,"inter":-11},{"pos":1154,"intra":18,"inter":-8},{"pos":1166,"intra":14,"inter":-10},{"pos":1178,"intra":20,"inter":-9},{"pos":1190,"intra":16,"inter":-11},{"pos":1202,"intra":19,"inter":-8},{"pos":1214,"intra":15,"inter":-10},{"pos":1226,"intra":22,"inter":-12},{"pos":1238,"intra":17,"inter":-9},{"pos":1250,"intra":14,"inter":-11},{"pos":1261,"intra":18,"inter":-20},{"pos":1272,"intra":15,"inter":-10},{"pos":1284,"intra":19,"inter":-9},{"pos":1296,"intra":16,"inter":-11},{"pos":1308,"intra":21,"inter":-8},{"pos":1320,"intra":15,"inter":-10},{"pos":1332,"intra":18,"inter":-9},{"pos":1344,"intra":14,"inter":-11},{"pos":1356,"intra":20,"inter":-10},{"pos":1368,"intra":16,"inter":-9},{"pos":1380,"intra":19,"inter":-12},{"pos":1392,"intra":15,"inter":-10},{"pos":1404,"intra":17,"inter":-9},{"pos":1416,"intra":14,"inter":-11},{"pos":1426,"intra":20,"inter":-15},{"pos":1435,"intra":50,"inter":-50},{"pos":1444,"intra":15,"inter":-14},{"pos":1454,"intra":12,"inter":-10},{"pos":1466,"intra":20,"inter":-12},{"pos":1478,"intra":30,"inter":-18},{"pos":1490,"intra":48,"inter":-22},{"pos":1500,"intra":42,"inter":-25},{"pos":1510,"intra":55,"inter":-20},{"pos":1520,"intra":45,"inter":-24},{"pos":1530,"intra":52,"inter":-18},{"pos":1542,"intra":40,"inter":-22},{"pos":1552,"intra":46,"inter":-20},{"pos":1562,"intra":36,"inter":-25},{"pos":1570,"intra":30,"inter":-15},{"pos":1576,"intra":12,"inter":-8},{"pos":1582,"intra":0,"inter":0},{"pos":1612,"intra":0,"inter":0},{"pos":1620,"intra":10,"inter":-8},{"pos":1632,"intra":15,"inter":-10},{"pos":1644,"intra":12,"inter":-9},{"pos":1656,"intra":18,"inter":-11},{"pos":1668,"intra":14,"inter":-8},{"pos":1680,"intra":20,"inter":-10},{"pos":1695,"intra":38,"inter":-12},{"pos":1706,"intra":18,"inter":-9},{"pos":1718,"intra":14,"inter":-11},{"pos":1730,"intra":17,"inter":-8},{"pos":1742,"intra":13,"inter":-10},{"pos":1754,"intra":16,"inter":-9},{"pos":1766,"intra":12,"inter":-8},{"pos":1778,"intra":15,"inter":-10},{"pos":1790,"intra":12,"inter":-8},{"pos":1800,"intra":18,"inter":-9},{"pos":1811,"intra":60,"inter":-10},{"pos":1818,"intra":15,"inter":-9},{"pos":1830,"intra":12,"inter":-8},{"pos":1842,"intra":10,"inter":-9},{"pos":1854,"intra":12,"inter":-7},{"pos":1866,"intra":10,"inter":-8},{"pos":1874,"intra":20,"inter":-30},{"pos":1882,"intra":163,"inter":-65},{"pos":1890,"intra":30,"inter":-40},{"pos":1898,"intra":15,"inter":-12},{"pos":1910,"intra":13,"inter":-9},{"pos":1922,"intra":16,"inter":-11},{"pos":1934,"intra":14,"inter":-9},{"pos":1946,"intra":18,"inter":-10},{"pos":1958,"intra":13,"inter":-11},{"pos":1970,"intra":17,"inter":-9},{"pos":1981,"intra":23,"inter":-15},{"pos":1992,"intra":19,"inter":-12},{"pos":2004,"intra":25,"inter":-16},{"pos":2016,"intra":20,"inter":-13},{"pos":2028,"intra":24,"inter":-15},{"pos":2040,"intra":18,"inter":-12},{"pos":2052,"intra":23,"inter":-14},{"pos":2064,"intra":17,"inter":-12},{"pos":2076,"intra":8,"inter":-5},{"pos":2084,"intra":3,"inter":-2},{"pos":2094,"intra":10,"inter":-7},{"pos":2106,"intra":13,"inter":-9},{"pos":2118,"intra":10,"inter":-7},{"pos":2130,"intra":14,"inter":-8},{"pos":2142,"intra":11,"inter":-9},{"pos":2154,"intra":13,"inter":-7},{"pos":2166,"intra":10,"inter":-8},{"pos":2178,"intra":12,"inter":-9},{"pos":2190,"intra":9,"inter":-6},{"pos":2200,"intra":18,"inter":-9},{"pos":2212,"intra":23,"inter":-10},{"pos":2224,"intra":20,"inter":-11},{"pos":2236,"intra":24,"inter":-9},{"pos":2248,"intra":19,"inter":-10},{"pos":2260,"intra":22,"inter":-12},{"pos":2272,"intra":18,"inter":-9},{"pos":2284,"intra":21,"inter":-10},{"pos":2296,"intra":6,"inter":-4},{"pos":2306,"intra":14,"inter":-9},{"pos":2318,"intra":16,"inter":-10},{"pos":2330,"intra":13,"inter":-8},{"pos":2342,"intra":15,"inter":-11},{"pos":2354,"intra":12,"inter":-9},{"pos":2366,"intra":17,"inter":-10},{"pos":2378,"intra":14,"inter":-8},{"pos":2390,"intra":18,"inter":-9},{"pos":2402,"intra":13,"inter":-10},{"pos":2412,"intra":8,"inter":-6},{"pos":2422,"intra":12,"inter":-8},{"pos":2434,"intra":14,"inter":-9},{"pos":2446,"intra":11,"inter":-7},{"pos":2458,"intra":13,"inter":-8},{"pos":2470,"intra":10,"inter":-9},{"pos":2482,"intra":14,"inter":-8},{"pos":2494,"intra":18,"inter":-10},{"pos":2506,"intra":25,"inter":-20},{"pos":2513,"intra":30,"inter":-33},{"pos":2522,"intra":40,"inter":-22},{"pos":2534,"intra":45,"inter":-15},{"pos":2546,"intra":55,"inter":-14},{"pos":2555,"intra":62,"inter":-12},{"pos":2562,"intra":60,"inter":-10},{"pos":2570,"intra":50,"inter":-12},{"pos":2578,"intra":20,"inter":-10},{"pos":2590,"intra":15,"inter":-12},{"pos":2602,"intra":13,"inter":-9},{"pos":2614,"intra":16,"inter":-10},{"pos":2626,"intra":12,"inter":-8},{"pos":2638,"intra":15,"inter":-11},{"pos":2650,"intra":13,"inter":-9},{"pos":2662,"intra":16,"inter":-10},{"pos":2672,"intra":12,"inter":-8},{"pos":2684,"intra":15,"inter":-9},{"pos":2696,"intra":20,"inter":-10},{"pos":2708,"intra":14,"inter":-8},{"pos":2718,"intra":10,"inter":-7},{"pos":2730,"intra":15,"inter":-9},{"pos":2742,"intra":18,"inter":-12},{"pos":2752,"intra":30,"inter":-16},{"pos":2763,"intra":55,"inter":-20},{"pos":2772,"intra":25,"inter":-14},{"pos":2780,"intra":10,"inter":-8},{"pos":2792,"intra":12,"inter":-9},{"pos":2804,"intra":14,"inter":-8},{"pos":2816,"intra":11,"inter":-9},{"pos":2826,"intra":6,"inter":-5},{"pos":2834,"intra":12,"inter":-8},{"pos":2846,"intra":14,"inter":-9},{"pos":2858,"intra":11,"inter":-8},{"pos":2870,"intra":13,"inter":-9},{"pos":2882,"intra":12,"inter":-8},{"pos":2894,"intra":14,"inter":-9},{"pos":2904,"intra":11,"inter":-7},{"pos":2913,"intra":20,"inter":-9},{"pos":2922,"intra":9,"inter":-7},{"pos":2934,"intra":8,"inter":-6},{"pos":2946,"intra":10,"inter":-7},{"pos":2958,"intra":7,"inter":-5},{"pos":2970,"intra":9,"inter":-6},{"pos":2982,"intra":7,"inter":-5},{"pos":2994,"intra":9,"inter":-6},{"pos":3006,"intra":8,"inter":-5},{"pos":3018,"intra":10,"inter":-6},{"pos":3028,"intra":7,"inter":-5},{"pos":3036,"intra":0,"inter":0},{"pos":3092,"intra":0,"inter":0}
],
"dna": [
{"pos":0,"intra":110,"inter":-25},{"pos":8,"intra":95,"inter":-20},{"pos":16,"intra":120,"inter":-30},{"pos":26,"intra":100,"inter":-22},{"pos":36,"intra":115,"inter":-28},{"pos":46,"intra":105,"inter":-24},{"pos":56,"intra":125,"inter":-30},{"pos":66,"intra":110,"inter":-20},{"pos":76,"intra":118,"inter":-26},{"pos":86,"intra":140,"inter":-25},{"pos":96,"intra":105,"inter":-22},{"pos":106,"intra":120,"inter":-28},{"pos":116,"intra":95,"inter":-20},{"pos":124,"intra":80,"inter":-15},{"pos":132,"intra":0,"inter":0},{"pos":140,"intra":0,"inter":0},{"pos":146,"intra":185,"inter":-65},{"pos":154,"intra":150,"inter":-45},{"pos":163,"intra":165,"inter":-35},{"pos":172,"intra":140,"inter":-30},{"pos":182,"intra":155,"inter":-28},{"pos":192,"intra":130,"inter":-32},{"pos":202,"intra":150,"inter":-26},{"pos":212,"intra":128,"inter":-30},{"pos":222,"intra":140,"inter":-24},{"pos":232,"intra":120,"inter":-28},{"pos":244,"intra":95,"inter":-25},{"pos":256,"intra":80,"inter":-22},{"pos":268,"intra":95,"inter":-28},{"pos":280,"intra":85,"inter":-20},{"pos":292,"intra":100,"inter":-26},{"pos":304,"intra":80,"inter":-22},{"pos":316,"intra":95,"inter":-24},{"pos":328,"intra":75,"inter":-20},{"pos":340,"intra":90,"inter":-26},{"pos":352,"intra":82,"inter":-22},{"pos":364,"intra":100,"inter":-25},{"pos":376,"intra":78,"inter":-20},{"pos":388,"intra":92,"inter":-24},{"pos":400,"intra":80,"inter":-22},{"pos":412,"intra":95,"inter":-26},{"pos":424,"intra":75,"inter":-20},{"pos":436,"intra":88,"inter":-24},{"pos":448,"intra":80,"inter":-22},{"pos":460,"intra":96,"inter":-25},{"pos":472,"intra":82,"inter":-20},{"pos":484,"intra":90,"inter":-24},{"pos":496,"intra":100,"inter":-26},{"pos":508,"intra":78,"inter":-22},{"pos":520,"intra":92,"inter":-25},{"pos":532,"intra":80,"inter":-20},{"pos":544,"intra":95,"inter":-24},{"pos":556,"intra":85,"inter":-26},{"pos":568,"intra":98,"inter":-22},{"pos":580,"intra":82,"inter":-20},{"pos":592,"intra":90,"inter":-25},{"pos":604,"intra":78,"inter":-22},{"pos":616,"intra":95,"inter":-24},{"pos":628,"intra":110,"inter":-26},{"pos":640,"intra":140,"inter":-28},{"pos":650,"intra":100,"inter":-24},{"pos":662,"intra":85,"inter":-22},{"pos":674,"intra":95,"inter":-25},{"pos":686,"intra":80,"inter":-20},{"pos":698,"intra":92,"inter":-24},{"pos":710,"intra":78,"inter":-22},{"pos":722,"intra":96,"inter":-26},{"pos":734,"intra":82,"inter":-20},{"pos":746,"intra":90,"inter":-24},{"pos":758,"intra":76,"inter":-22},{"pos":770,"intra":92,"inter":-25},{"pos":782,"intra":80,"inter":-20},{"pos":794,"intra":95,"inter":-24},{"pos":806,"intra":82,"inter":-22},{"pos":818,"intra":90,"inter":-25},{"pos":830,"intra":78,"inter":-20},{"pos":842,"intra":94,"inter":-24},{"pos":854,"intra":80,"inter":-22},{"pos":866,"intra":100,"inter":-26},{"pos":876,"intra":140,"inter":-30},{"pos":884,"intra":180,"inter":-35},{"pos":894,"intra":150,"inter":-30},{"pos":904,"intra":110,"inter":-28},{"pos":916,"intra":95,"inter":-30},{"pos":928,"intra":105,"inter":-26},{"pos":940,"intra":90,"inter":-32},{"pos":952,"intra":100,"inter":-28},{"pos":964,"intra":92,"inter":-30},{"pos":976,"intra":105,"inter":-26},{"pos":988,"intra":95,"inter":-32},{"pos":1000,"intra":100,"inter":-28},{"pos":1012,"intra":90,"inter":-30},{"pos":1024,"intra":105,"inter":-26},{"pos":1036,"intra":95,"inter":-30},{"pos":1048,"intra":110,"inter":-28},{"pos":1058,"intra":140,"inter":-30},{"pos":1068,"intra":150,"inter":-35},{"pos":1078,"intra":140,"inter":-40},{"pos":1090,"intra":155,"inter":-45},{"pos":1100,"intra":145,"inter":-40},{"pos":1112,"intra":150,"inter":-50},{"pos":1122,"intra":130,"inter":-60},{"pos":1130,"intra":145,"inter":-70},{"pos":1138,"intra":150,"inter":-45},{"pos":1148,"intra":140,"inter":-40},{"pos":1160,"intra":155,"inter":-38},{"pos":1172,"intra":135,"inter":-42},{"pos":1184,"intra":150,"inter":-36},{"pos":1196,"intra":130,"inter":-40},{"pos":1208,"intra":145,"inter":-35},{"pos":1220,"intra":150,"inter":-38},{"pos":1232,"intra":135,"inter":-40},{"pos":1244,"intra":145,"inter":-35},{"pos":1256,"intra":130,"inter":-38},{"pos":1264,"intra":140,"inter":-30},{"pos":1276,"intra":90,"inter":-25},{"pos":1290,"intra":40,"inter":-15},{"pos":1300,"intra":100,"inter":-25},{"pos":1310,"intra":120,"inter":-28},{"pos":1322,"intra":110,"inter":-30},{"pos":1334,"intra":125,"inter":-26},{"pos":1346,"intra":115,"inter":-30},{"pos":1355,"intra":150,"inter":-28},{"pos":1366,"intra":120,"inter":-30},{"pos":1378,"intra":110,"inter":-26},{"pos":1390,"intra":125,"inter":-30},{"pos":1402,"intra":115,"inter":-28},{"pos":1414,"intra":130,"inter":-35},{"pos":1424,"intra":150,"inter":-60},{"pos":1435,"intra":410,"inter":-185},{"pos":1444,"intra":180,"inter":-60},{"pos":1452,"intra":200,"inter":-45},{"pos":1462,"intra":220,"inter":-40},{"pos":1472,"intra":200,"inter":-45},{"pos":1482,"intra":230,"inter":-42},{"pos":1490,"intra":210,"inter":-38},{"pos":1500,"intra":250,"inter":-45},{"pos":1510,"intra":215,"inter":-40},{"pos":1520,"intra":230,"inter":-38},{"pos":1530,"intra":210,"inter":-42},{"pos":1540,"intra":200,"inter":-36},{"pos":1552,"intra":160,"inter":-30},{"pos":1564,"intra":130,"inter":-28},{"pos":1574,"intra":100,"inter":-20},{"pos":1582,"intra":0,"inter":0},{"pos":1608,"intra":0,"inter":0},{"pos":1614,"intra":100,"inter":-25},{"pos":1626,"intra":95,"inter":-28},{"pos":1638,"intra":110,"inter":-24},{"pos":1650,"intra":100,"inter":-30},{"pos":1662,"intra":115,"inter":-26},{"pos":1674,"intra":105,"inter":-28},{"pos":1685,"intra":130,"inter":-30},{"pos":1695,"intra":200,"inter":-32},{"pos":1705,"intra":120,"inter":-28},{"pos":1716,"intra":105,"inter":-25},{"pos":1728,"intra":115,"inter":-28},{"pos":1740,"intra":100,"inter":-24},{"pos":1752,"intra":110,"inter":-26},{"pos":1764,"intra":95,"inter":-28},{"pos":1776,"intra":105,"inter":-24},{"pos":1788,"intra":120,"inter":-28},{"pos":1800,"intra":115,"inter":-26},{"pos":1810,"intra":160,"inter":-30},{"pos":1820,"intra":120,"inter":-28},{"pos":1830,"intra":140,"inter":-32},{"pos":1840,"intra":220,"inter":-35},{"pos":1850,"intra":130,"inter":-40},{"pos":1862,"intra":140,"inter":-45},{"pos":1872,"intra":160,"inter":-80},{"pos":1882,"intra":467,"inter":-150},{"pos":1890,"intra":200,"inter":-90},{"pos":1898,"intra":150,"inter":-40},{"pos":1910,"intra":140,"inter":-35},{"pos":1922,"intra":130,"inter":-38},{"pos":1934,"intra":150,"inter":-32},{"pos":1946,"intra":135,"inter":-36},{"pos":1958,"intra":145,"inter":-30},{"pos":1967,"intra":180,"inter":-35},{"pos":1976,"intra":130,"inter":-32},{"pos":1986,"intra":120,"inter":-30},{"pos":1996,"intra":135,"inter":-28},{"pos":2006,"intra":110,"inter":-32},{"pos":2016,"intra":125,"inter":-28},{"pos":2026,"intra":115,"inter":-30},{"pos":2036,"intra":130,"inter":-26},{"pos":2046,"intra":120,"inter":-28},{"pos":2056,"intra":140,"inter":-30},{"pos":2066,"intra":180,"inter":-32},{"pos":2074,"intra":100,"inter":-20},{"pos":2082,"intra":0,"inter":0},{"pos":2098,"intra":0,"inter":0},{"pos":2104,"intra":70,"inter":-20},{"pos":2116,"intra":75,"inter":-22},{"pos":2128,"intra":68,"inter":-20},{"pos":2140,"intra":78,"inter":-24},{"pos":2152,"intra":70,"inter":-20},{"pos":2164,"intra":75,"inter":-22},{"pos":2176,"intra":68,"inter":-20},{"pos":2186,"intra":60,"inter":-18},{"pos":2194,"intra":0,"inter":0},{"pos":2206,"intra":0,"inter":0},{"pos":2212,"intra":120,"inter":-28},{"pos":2222,"intra":140,"inter":-30},{"pos":2232,"intra":115,"inter":-26},{"pos":2244,"intra":125,"inter":-30},{"pos":2256,"intra":110,"inter":-26},{"pos":2268,"intra":120,"inter":-28},{"pos":2280,"intra":130,"inter":-30},{"pos":2290,"intra":110,"inter":-24},{"pos":2298,"intra":0,"inter":0},{"pos":2312,"intra":0,"inter":0},{"pos":2320,"intra":95,"inter":-30},{"pos":2332,"intra":100,"inter":-35},{"pos":2344,"intra":110,"inter":-40},{"pos":2356,"intra":130,"inter":-50},{"pos":2368,"intra":160,"inter":-60},{"pos":2378,"intra":120,"inter":-45},{"pos":2390,"intra":100,"inter":-35},{"pos":2402,"intra":110,"inter":-30},{"pos":2412,"intra":80,"inter":-25},{"pos":2420,"intra":100,"inter":-28},{"pos":2432,"intra":105,"inter":-30},{"pos":2444,"intra":95,"inter":-26},{"pos":2456,"intra":110,"inter":-30},{"pos":2468,"intra":100,"inter":-28},{"pos":2480,"intra":115,"inter":-30},{"pos":2492,"intra":120,"inter":-35},{"pos":2500,"intra":160,"inter":-45},{"pos":2510,"intra":200,"inter":-60},{"pos":2520,"intra":220,"inter":-70},{"pos":2530,"intra":180,"inter":-80},{"pos":2540,"intra":240,"inter":-90},{"pos":2548,"intra":260,"inter":-100},{"pos":2555,"intra":280,"inter":-105},{"pos":2562,"intra":230,"inter":-90},{"pos":2570,"intra":180,"inter":-60},{"pos":2580,"intra":130,"inter":-40},{"pos":2592,"intra":100,"inter":-30},{"pos":2604,"intra":110,"inter":-28},{"pos":2616,"intra":95,"inter":-30},{"pos":2628,"intra":105,"inter":-26},{"pos":2640,"intra":100,"inter":-30},{"pos":2652,"intra":110,"inter":-32},{"pos":2662,"intra":160,"inter":-60},{"pos":2668,"intra":245,"inter":-90},{"pos":2676,"intra":170,"inter":-60},{"pos":2686,"intra":140,"inter":-40},{"pos":2696,"intra":150,"inter":-35},{"pos":2706,"intra":130,"inter":-38},{"pos":2716,"intra":145,"inter":-32},{"pos":2726,"intra":135,"inter":-36},{"pos":2736,"intra":150,"inter":-40},{"pos":2746,"intra":160,"inter":-45},{"pos":2756,"intra":200,"inter":-50},{"pos":2763,"intra":245,"inter":-55},{"pos":2770,"intra":150,"inter":-40},{"pos":2776,"intra":0,"inter":0},{"pos":2786,"intra":0,"inter":0},{"pos":2792,"intra":150,"inter":-50},{"pos":2802,"intra":140,"inter":-80},{"pos":2812,"intra":150,"inter":-60},{"pos":2820,"intra":130,"inter":-40},{"pos":2826,"intra":0,"inter":0},{"pos":2834,"intra":0,"inter":0},{"pos":2840,"intra":85,"inter":-25},{"pos":2852,"intra":90,"inter":-28},{"pos":2864,"intra":80,"inter":-24},{"pos":2876,"intra":95,"inter":-26},{"pos":2888,"intra":85,"inter":-28},{"pos":2900,"intra":100,"inter":-25},{"pos":2912,"intra":80,"inter":-22},{"pos":2924,"intra":90,"inter":-26},{"pos":2936,"intra":82,"inter":-24},{"pos":2948,"intra":95,"inter":-28},{"pos":2960,"intra":85,"inter":-22},{"pos":2972,"intra":100,"inter":-26},{"pos":2984,"intra":88,"inter":-24},{"pos":2996,"intra":92,"inter":-25},{"pos":3008,"intra":80,"inter":-22},{"pos":3018,"intra":95,"inter":-26},{"pos":3028,"intra":85,"inter":-20},{"pos":3034,"intra":0,"inter":0},{"pos":3092,"intra":0,"inter":0}
]
},
"vconcat": [
{
"width": 657, "height": 172,
"layer": [
{"data": {"values": [
{"x1":201,"y1":55,"x2":405,"y2":55},{"x1":201,"y1":92,"x2":236,"y2":92},{"x1":201,"y1":130,"x2":236,"y2":130},{"x1":369,"y1":92,"x2":405,"y2":92},{"x1":369,"y1":130,"x2":405,"y2":130},{"x1":472,"y1":55,"x2":507,"y2":55},{"x1":472,"y1":18,"x2":507,"y2":55}]},
"mark": {"type": "rule", "color": "#111111", "strokeWidth": 1.6},
"encoding": {
"x": {"field": "x1", "type": "quantitative", "scale": {"domain": [49, 706], "nice": false, "zero": false}, "axis": null},
"x2": {"field": "x2"},
"y": {"field": "y1", "type": "quantitative", "scale": {"domain": [0, 172], "nice": false, "zero": false, "reverse": true}, "axis": null},
"y2": {"field": "y2"}}},
{"data": {"values": [
{"kind":"WGS","x1":1,"x2":201,"y1":36,"y2":146},{"kind":"RNA","x1":507,"x2":707,"y1":5,"y2":114}]},
"mark": {"type": "rect", "cornerRadius": 14, "strokeWidth": 2},
"encoding": {
"x": {"field": "x1", "type": "quantitative"}, "x2": {"field": "x2"},
"y": {"field": "y1", "type": "quantitative"}, "y2": {"field": "y2"},
"fill": {"field": "kind", "type": "nominal", "scale": {"domain": ["WGS","RNA","Both"], "range": ["#e6e6fa","#fde3ea","#f2e2fb"]}, "legend": null},
"stroke": {"field": "kind", "type": "nominal", "scale": {"domain": ["WGS","RNA","Both"], "range": ["#2b3fd8","#d9202d","#9a3fe0"]}, "legend": null}}},
{"data": {"values": [
{"kind":"WGS","x1":236,"x2":369,"y1":77,"y2":108},{"kind":"WGS","x1":236,"x2":369,"y1":114,"y2":146},{"kind":"RNA","x1":405,"x2":472,"y1":3,"y2":33},{"kind":"Both","x1":405,"x2":472,"y1":40,"y2":71},{"kind":"WGS","x1":405,"x2":472,"y1":77,"y2":108},{"kind":"WGS","x1":405,"x2":472,"y1":114,"y2":146}]},
"mark": {"type": "rect", "cornerRadius": 15, "strokeWidth": 2},
"encoding": {
"x": {"field": "x1", "type": "quantitative"}, "x2": {"field": "x2"},
"y": {"field": "y1", "type": "quantitative"}, "y2": {"field": "y2"},
"fill": {"field": "kind", "type": "nominal", "legend": null},
"stroke": {"field": "kind", "type": "nominal", "legend": null}}},
{"data": {"values": [
{"t":"WGS detected","x":101,"y":70},{"t":"interchromosomal","x":101,"y":90},{"t":"genomic breakpoints","x":101,"y":109},
{"t":"rRNA-minus RNA-seq","x":607,"y":30},{"t":"detected","x":607,"y":49},{"t":"interchromosomal","x":607,"y":69},{"t":"intronic junctions","x":607,"y":88}]},
"mark": {"type": "text", "fontSize": 15.5, "color": "#222222", "baseline": "middle", "align": "center"},
"encoding": {"x": {"field": "x", "type": "quantitative"}, "y": {"field": "y", "type": "quantitative"}, "text": {"field": "t"}}},
{"data": {"values": [
{"t":"+ RNA reads","x":302,"y":92},{"t":"- RNA reads","x":302,"y":130}]},
"mark": {"type": "text", "fontSize": 16, "color": "#222222", "baseline": "middle", "align": "center"},
"encoding": {"x": {"field": "x", "type": "quantitative"}, "y": {"field": "y", "type": "quantitative"}, "text": {"field": "t"}}},
{"data": {"values": [
{"t":"357","x":438,"y":18},{"t":"422","x":438,"y":55.5},{"t":"61","x":438,"y":92},{"t":"6048","x":438,"y":130}]},
"mark": {"type": "text", "fontSize": 20, "color": "#222222", "baseline": "middle", "align": "center"},
"encoding": {"x": {"field": "x", "type": "quantitative"}, "y": {"field": "y", "type": "quantitative"}, "text": {"field": "t"}}},
{"data": {"values": [{"t":"A","x":2,"y":12},{"t":"B","x":2,"y":181}]},
"mark": {"type": "text", "fontSize": 19, "fontWeight": "bold", "color": "#111111", "baseline": "middle", "align": "left"},
"encoding": {"x": {"field": "x", "type": "quantitative"}, "y": {"field": "y", "type": "quantitative"}, "text": {"field": "t"}}}
]
},
{
"width": 657, "height": 99,
"title": {"text": "Colorectal", "orient": "left", "anchor": "start", "align": "center", "frame": "group", "fontSize": 15.5, "fontWeight": "normal", "color": "#222222", "offset": 2},
"layer": [
{"data": {"name": "chroms"}, "mark": {"type": "rule", "color": "#e3e3e3", "strokeWidth": 1}, "encoding": {"x": {"field": "start", "type": "quantitative", "scale": {"domain": [0, 3092], "nice": false, "zero": false}, "axis": null}}},
{"data": {"name": "crc"}, "mark": {"type": "area", "fill": "#f23a62", "stroke": "#ee1520", "strokeWidth": 1.2},
"encoding": {"x": {"field": "pos", "type": "quantitative"}, "y": {"field": "intra", "type": "quantitative", "scale": {"domain": [-6, 6], "nice": false, "zero": false},
"axis": {"values": [3, -3], "labelExpr": "datum.value > 0 ? 'intra' : 'inter'", "labelAngle": -90, "labelFontSize": 12, "labelColor": "#333333", "labelPadding": 1, "ticks": false, "domain": false, "grid": false, "title": "Cancer", "titleFontSize": 12, "titleFontWeight": "normal", "titleColor": "#333333", "titlePadding": 2}}, "y2": {"datum": 0}}},
{"data": {"name": "crc"}, "mark": {"type": "area", "fill": "#f23a62", "stroke": "#ee1520", "strokeWidth": 1.2},
"encoding": {"x": {"field": "pos", "type": "quantitative"}, "y": {"field": "inter", "type": "quantitative"}, "y2": {"datum": 0}}},
{"data": {"values": [{"note": "y-max=6"}]}, "mark": {"type": "text", "align": "right", "baseline": "top", "dx": -2, "dy": 3, "fontSize": 10.5, "color": "#222222"},
"encoding": {"x": {"datum": 3092}, "y": {"datum": 6}, "text": {"field": "note"}}}
]
},
{
"width": 657, "height": 99,
"view": {"fill": "#f7f7f7"},
"layer": [
{"data": {"name": "chroms"}, "mark": {"type": "rule", "color": "#e3e3e3", "strokeWidth": 1}, "encoding": {"x": {"field": "start", "type": "quantitative", "scale": {"domain": [0, 3092], "nice": false, "zero": false}, "axis": null}}},
{"data": {"name": "aden"}, "mark": {"type": "area", "fill": "#3a4cf0", "stroke": "#2236e6", "strokeWidth": 1.2},
"encoding": {"x": {"field": "pos", "type": "quantitative"}, "y": {"field": "intra", "type": "quantitative", "scale": {"domain": [-10, 10], "nice": false, "zero": false},
"axis": {"values": [5, -5], "labelExpr": "datum.value > 0 ? 'intra' : 'inter'", "labelAngle": -90, "labelFontSize": 12, "labelColor": "#333333", "labelPadding": 1, "ticks": false, "domain": false, "grid": false, "title": "Adenoma", "titleFontSize": 12, "titleFontWeight": "normal", "titleColor": "#333333", "titlePadding": 2}}, "y2": {"datum": 0}}},
{"data": {"name": "aden"}, "mark": {"type": "area", "fill": "#3a4cf0", "stroke": "#2236e6", "strokeWidth": 1.2},
"encoding": {"x": {"field": "pos", "type": "quantitative"}, "y": {"field": "inter", "type": "quantitative"}, "y2": {"datum": 0}}},
{"data": {"values": [{"note": "y-max=10"}]}, "mark": {"type": "text", "align": "right", "baseline": "top", "dx": -2, "dy": 3, "fontSize": 10.5, "color": "#222222"},
"encoding": {"x": {"datum": 3092}, "y": {"datum": 10}, "text": {"field": "note"}}}
]
},
{
"width": 657, "height": 99,
"title": {"text": ["Prostate", "Cancer"], "orient": "left", "anchor": "middle", "frame": "group", "fontSize": 15.5, "fontWeight": "normal", "color": "#222222", "offset": 3, "lineHeight": 18},
"layer": [
{"data": {"name": "chroms"}, "mark": {"type": "rule", "color": "#e3e3e3", "strokeWidth": 1}, "encoding": {"x": {"field": "start", "type": "quantitative", "scale": {"domain": [0, 3092], "nice": false, "zero": false}, "axis": null}}},
{"data": {"name": "pros"}, "mark": {"type": "area", "fill": "#f23a62", "stroke": "#ee1520", "strokeWidth": 1.2},
"encoding": {"x": {"field": "pos", "type": "quantitative"}, "y": {"field": "intra", "type": "quantitative", "scale": {"domain": [-34, 34], "nice": false, "zero": false},
"axis": {"values": [17, -17], "labelExpr": "datum.value > 0 ? 'intra' : 'inter'", "labelAngle": -90, "labelFontSize": 12, "labelColor": "#333333", "labelPadding": 1, "ticks": false, "domain": false, "grid": false, "title": null}}, "y2": {"datum": 0}}},
{"data": {"name": "pros"}, "mark": {"type": "area", "fill": "#f23a62", "stroke": "#ee1520", "strokeWidth": 1.2},
"encoding": {"x": {"field": "pos", "type": "quantitative"}, "y": {"field": "inter", "type": "quantitative"}, "y2": {"datum": 0}}},
{"data": {"values": [{"note": "y-max=34"}]}, "mark": {"type": "text", "align": "right", "baseline": "top", "dx": -2, "dy": 3, "fontSize": 10.5, "color": "#222222"},
"encoding": {"x": {"datum": 3092}, "y": {"datum": 34}, "text": {"field": "note"}}},
{"data": {"values": [{"gene": "ERG & TMPRSS2", "pos": 2884, "height": 12.7}]}, "mark": {"type": "text", "baseline": "middle", "fontSize": 10.5, "color": "#222222"},
"encoding": {"x": {"field": "pos", "type": "quantitative"}, "y": {"field": "height", "type": "quantitative"}, "text": {"field": "gene"}}}
]
},
{
"width": 657, "height": 99,
"view": {"fill": "#f7f7f7"},
"title": {"text": "Glioma", "orient": "left", "anchor": "middle", "frame": "group", "fontSize": 15.5, "fontWeight": "normal", "color": "#222222", "offset": 18},
"layer": [
{"data": {"name": "chroms"}, "mark": {"type": "rule", "color": "#e3e3e3", "strokeWidth": 1}, "encoding": {"x": {"field": "start", "type": "quantitative", "scale": {"domain": [0, 3092], "nice": false, "zero": false}, "axis": null}}},
{"data": {"name": "glio"}, "mark": {"type": "area", "fill": "#f23a62", "stroke": "#ee1520", "strokeWidth": 1.2},
"encoding": {"x": {"field": "pos", "type": "quantitative"}, "y": {"field": "intra", "type": "quantitative", "scale": {"domain": [-76, 76], "nice": false, "zero": false},
"axis": {"values": [38, -38], "labelExpr": "datum.value > 0 ? 'intra' : 'inter'", "labelAngle": -90, "labelFontSize": 12, "labelColor": "#333333", "labelPadding": 1, "ticks": false, "domain": false, "grid": false, "title": null}}, "y2": {"datum": 0}}},
{"data": {"name": "glio"}, "mark": {"type": "area", "fill": "#f23a62", "stroke": "#ee1520", "strokeWidth": 1.2},
"encoding": {"x": {"field": "pos", "type": "quantitative"}, "y": {"field": "inter", "type": "quantitative"}, "y2": {"datum": 0}}},
{"data": {"values": [{"note": "y-max=76"}]}, "mark": {"type": "text", "align": "right", "baseline": "top", "dx": -2, "dy": 3, "fontSize": 10.5, "color": "#222222"},
"encoding": {"x": {"datum": 3092}, "y": {"datum": 76}, "text": {"field": "note"}}},
{"data": {"values": [{"gene": "PDGFRA & KIT", "pos": 740, "height": 38}, {"gene": "EGFR", "pos": 1310, "height": 38}, {"gene": "CDK4 & MDM2", "pos": 2013, "height": 38}]}, "mark": {"type": "text", "baseline": "middle", "fontSize": 10.5, "color": "#222222"},
"encoding": {"x": {"field": "pos", "type": "quantitative"}, "y": {"field": "height", "type": "quantitative"}, "text": {"field": "gene"}}}
]
},
{
"width": 657, "height": 99,
"title": {"text": "Breast Cancer", "orient": "left", "anchor": "start", "align": "center", "frame": "group", "fontSize": 15.5, "fontWeight": "normal", "color": "#222222", "offset": 2},
"layer": [
{"data": {"name": "chroms"}, "mark": {"type": "rule", "color": "#e3e3e3", "strokeWidth": 1}, "encoding": {"x": {"field": "start", "type": "quantitative", "scale": {"domain": [0, 3092], "nice": false, "zero": false}, "axis": null}}},
{"data": {"name": "rna"}, "mark": {"type": "area", "fill": "#f23a62", "stroke": "#ee1520", "strokeWidth": 1.2},
"encoding": {"x": {"field": "pos", "type": "quantitative"}, "y": {"field": "intra", "type": "quantitative", "scale": {"domain": [-163, 163], "nice": false, "zero": false},
"axis": {"values": [81.5, -81.5], "labelExpr": "datum.value > 0 ? 'intra' : 'inter'", "labelAngle": -90, "labelFontSize": 12, "labelColor": "#333333", "labelPadding": 1, "ticks": false, "domain": false, "grid": false, "title": "RNA−seq", "titleFontSize": 12, "titleFontWeight": "normal", "titleColor": "#333333", "titlePadding": 2}}, "y2": {"datum": 0}}},
{"data": {"name": "rna"}, "mark": {"type": "area", "fill": "#f23a62", "stroke": "#ee1520", "strokeWidth": 1.2},
"encoding": {"x": {"field": "pos", "type": "quantitative"}, "y": {"field": "inter", "type": "quantitative"}, "y2": {"datum": 0}}},
{"data": {"values": [{"note": "y-max=163"}]}, "mark": {"type": "text", "align": "right", "baseline": "top", "dx": -2, "dy": 3, "fontSize": 10.5, "color": "#222222"},
"encoding": {"x": {"datum": 3092}, "y": {"datum": 163}, "text": {"field": "note"}}},
{"data": {"values": [{"gene": "FGFR1", "pos": 1468, "height": 110}, {"gene": "CCND1, SHANK2 & TENM4", "pos": 1910, "height": 110}]}, "mark": {"type": "text", "baseline": "middle", "fontSize": 10.5, "color": "#222222"},
"encoding": {"x": {"field": "pos", "type": "quantitative"}, "y": {"field": "height", "type": "quantitative"}, "text": {"field": "gene"}}}
]
},
{
"width": 657, "height": 99,
"view": {"fill": "#f7f7f7"},
"layer": [
{"data": {"name": "chroms"}, "mark": {"type": "rule", "color": "#e3e3e3", "strokeWidth": 1}, "encoding": {"x": {"field": "start", "type": "quantitative", "scale": {"domain": [0, 3092], "nice": false, "zero": false}, "axis": null}}},
{"data": {"name": "dna"}, "mark": {"type": "area", "fill": "#35c70e", "stroke": "#1f6b10", "strokeWidth": 1.2},
"encoding": {"x": {"field": "pos", "type": "quantitative"}, "y": {"field": "intra", "type": "quantitative", "scale": {"domain": [-467, 467], "nice": false, "zero": false},
"axis": {"values": [233.5, -233.5], "labelExpr": "datum.value > 0 ? 'intra' : 'inter'", "labelAngle": -90, "labelFontSize": 12, "labelColor": "#333333", "labelPadding": 1, "ticks": false, "domain": false, "grid": false, "title": "DNA−seq", "titleFontSize": 12, "titleFontWeight": "normal", "titleColor": "#333333", "titlePadding": 2}}, "y2": {"datum": 0}}},
{"data": {"name": "dna"}, "mark": {"type": "area", "fill": "#35c70e", "stroke": "#1f6b10", "strokeWidth": 1.2},
"encoding": {"x": {"field": "pos", "type": "quantitative"}, "y": {"field": "inter", "type": "quantitative"}, "y2": {"datum": 0}}},
{"data": {"values": [{"note": "y-max=467"}]}, "mark": {"type": "text", "align": "right", "baseline": "top", "dx": -2, "dy": 3, "fontSize": 10.5, "color": "#222222"},
"encoding": {"x": {"datum": 3092}, "y": {"datum": 467}, "text": {"field": "note"}}},
{"data": {"values": [{"gene": "FGFR1", "pos": 1468, "height": 333}, {"gene": "CCND1, SHANK2 & TENM4", "pos": 1910, "height": 333}]}, "mark": {"type": "text", "baseline": "middle", "fontSize": 10.5, "color": "#222222"},
"encoding": {"x": {"field": "pos", "type": "quantitative"}, "y": {"field": "height", "type": "quantitative"}, "text": {"field": "gene"}}}
]
},
{
"width": 657, "height": 12,
"data": {"name": "chroms"},
"mark": {"type": "text", "angle": 270, "align": "right", "baseline": "middle", "fontSize": 10, "color": "#333333"},
"encoding": {"x": {"field": "center", "type": "quantitative", "scale": {"domain": [0, 3092], "nice": false, "zero": false}, "axis": null}, "text": {"field": "chr"}}
}
]
}
